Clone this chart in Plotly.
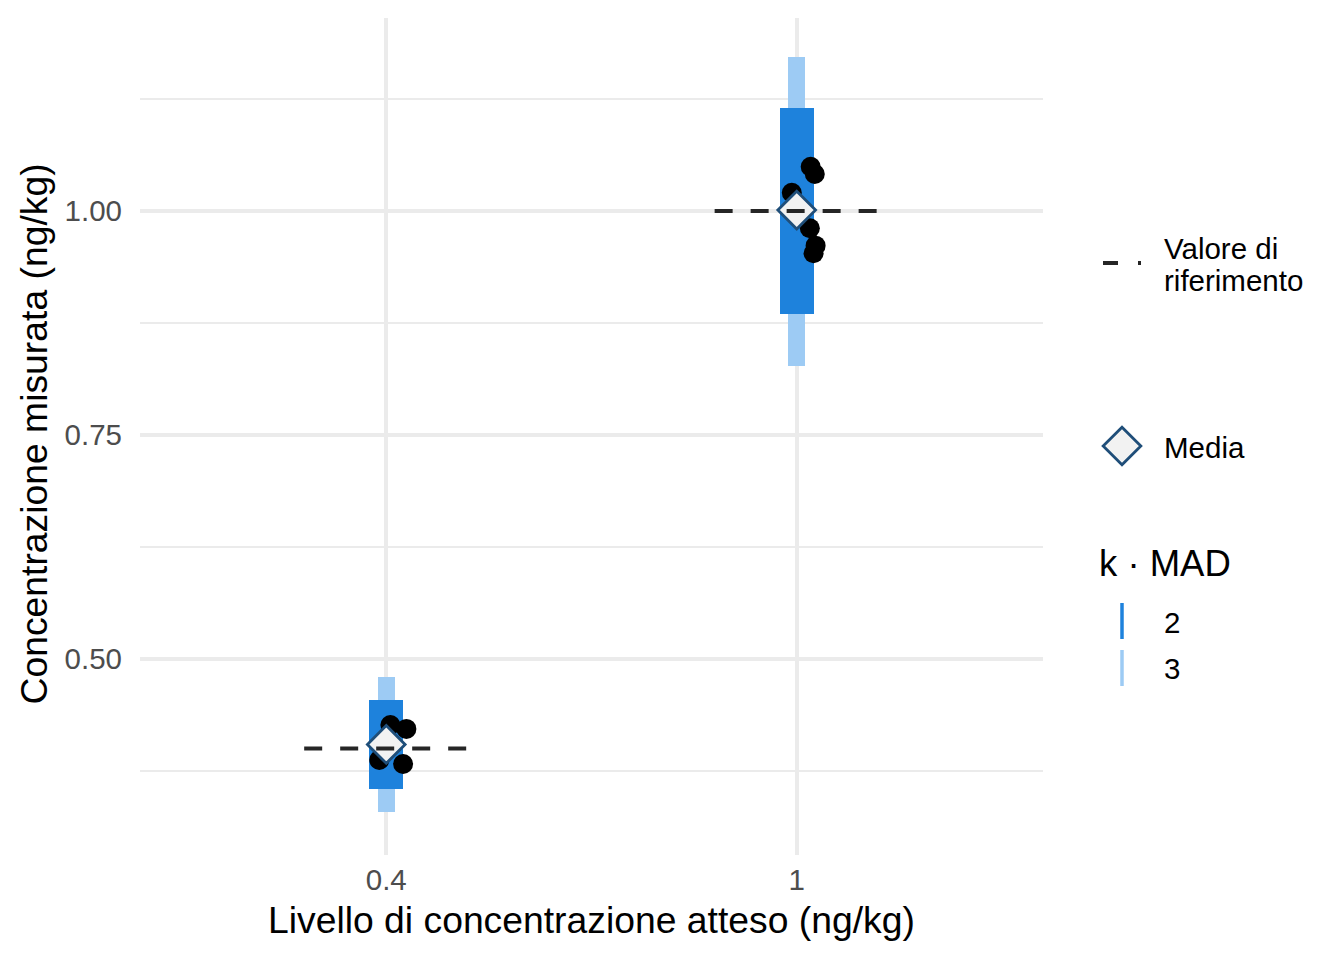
import plotly.graph_objects as go

# ---------------- data ----------------
categories = ["0.4", "1"]
cat_pos = [1, 2]
reference_values = [0.40, 1.00]
mean_values = [0.4046, 1.001]
mad2_low = [0.355, 0.885]
mad2_high = [0.454, 1.115]
mad3_low = [0.329, 0.827]
mad3_high = [0.480, 1.172]

points_level1 = [0.4263, 0.4219, 0.3873, 0.3828]
jitter_level1 = [0.010, 0.049, -0.017, 0.041]
points_level2 = [1.0494, 1.0413, 1.0204, 0.9807, 0.9613, 0.9528]
jitter_level2 = [0.034, 0.044, -0.012, 0.032, 0.046, 0.041]

y_tick_vals = [0.50, 0.75, 1.00]
y_tick_text = ["0.50", "0.75", "1.00"]
y_minor_vals = [0.375, 0.625, 0.875, 1.125]
mad_levels = ["2", "3"]

# ---------------- styles ----------------
W, H = 1344, 960
L, R, T, B = 140, 1043, 18, 855
DARK = "#1E82DC"
LIGHT = "#9DCBF4"
LINE = "#262626"
DIAM_FILL = "#F2F2F2"
DIAM_LINE = "#1F4E79"
GRID = "#EBEBEB"
FONT = "Liberation Sans"
TICK_SIZE = 29.5
TITLE_SIZE = 37.3

fig = go.Figure()

# MAD bars (3 behind, 2 in front)
fig.add_trace(go.Bar(
    x=cat_pos, y=[h - l for h, l in zip(mad3_high, mad3_low)], base=mad3_low,
    width=0.0415, marker=dict(color=LIGHT, line=dict(width=0)),
    showlegend=False, hoverinfo="skip"))
fig.add_trace(go.Bar(
    x=cat_pos, y=[h - l for h, l in zip(mad2_high, mad2_low)], base=mad2_low,
    width=0.083, marker=dict(color=DARK, line=dict(width=0)),
    showlegend=False, hoverinfo="skip"))

# individual points
px = [cat_pos[0] + j for j in jitter_level1] + [cat_pos[1] + j for j in jitter_level2]
py = points_level1 + points_level2
fig.add_trace(go.Scatter(x=px, y=py, mode="markers",
                         marker=dict(size=20, color="black"), showlegend=False))

# mean diamonds
fig.add_trace(go.Scatter(x=cat_pos, y=mean_values, mode="markers",
                         marker=dict(symbol="diamond", size=29, color=DIAM_FILL,
                                     line=dict(color=DIAM_LINE, width=2.8)),
                         showlegend=False))

# reference dashed segments
for p, r in zip(cat_pos, reference_values):
    fig.add_trace(go.Scatter(x=[p - 0.2, p + 0.2], y=[r, r], mode="lines",
                             line=dict(color=LINE, width=4, dash="18px,18px"),
                             showlegend=False))

# ---------------- legend (pixel overlay axes) ----------------
fig.add_trace(go.Scatter(x=[1103, 1141], y=[263, 263], mode="lines", xaxis="x2", yaxis="y2",
                         line=dict(color=LINE, width=4, dash="15px,20px"), showlegend=False))
fig.add_trace(go.Scatter(x=[1122], y=[446], mode="markers", xaxis="x2", yaxis="y2",
                         marker=dict(symbol="diamond", size=29, color=DIAM_FILL,
                                     line=dict(color=DIAM_LINE, width=2.8)),
                         showlegend=False))
fig.add_trace(go.Scatter(x=[1122, 1122], y=[603, 639], mode="lines", xaxis="x2", yaxis="y2",
                         line=dict(color=DARK, width=3.5), showlegend=False))
fig.add_trace(go.Scatter(x=[1122, 1122], y=[650, 686], mode="lines", xaxis="x2", yaxis="y2",
                         line=dict(color=LIGHT, width=3.5), showlegend=False))

annotations = [
    dict(text="Valore di", x=1162, y=248),
    dict(text="riferimento", x=1162, y=280),
    dict(text="Media", x=1162, y=447),
    dict(text=mad_levels[0], x=1162, y=622),
    dict(text=mad_levels[1], x=1162, y=668),
]
for a in annotations:
    fig.add_annotation(xref="x2", yref="y2", xanchor="left", yanchor="middle",
                       showarrow=False, font=dict(family=FONT, size=TICK_SIZE, color="black"), **a)
fig.add_annotation(xref="x2", yref="y2", x=1097, y=563, text="k · MAD", xanchor="left",
                   yanchor="middle", showarrow=False,
                   font=dict(family=FONT, size=36.5, color="black"))
# axis titles
fig.add_annotation(xref="x2", yref="y2", x=(L + R) / 2, y=920,
                   text="Livello di concentrazione atteso (ng/kg)", xanchor="center",
                   yanchor="middle", showarrow=False,
                   font=dict(family=FONT, size=TITLE_SIZE, color="black"))
fig.add_annotation(xref="x2", yref="y2", x=33, y=(T + B) / 2 - 2,
                   text="Concentrazione misurata (ng/kg)", textangle=-90, xanchor="center",
                   yanchor="middle", showarrow=False,
                   font=dict(family=FONT, size=TITLE_SIZE, color="black"))

fig.update_layout(
    width=W, height=H,
    margin=dict(l=0, r=0, t=0, b=0),
    paper_bgcolor="white", plot_bgcolor="rgba(0,0,0,0)",
    barmode="overlay", bargap=0,
    font=dict(family=FONT),
    xaxis=dict(domain=[L / W, R / W], range=[0.4, 2.6], tickvals=cat_pos, ticktext=categories,
               showgrid=True, gridcolor=GRID, gridwidth=3.5, zeroline=False, showline=False,
               ticks="", ticklabelstandoff=4, automargin=False,
               tickfont=dict(family=FONT, size=TICK_SIZE, color="#4D4D4D"), anchor="y"),
    yaxis=dict(domain=[1 - B / H, 1 - T / H], range=[0.2812, 1.2154], tickvals=y_tick_vals,
               ticktext=y_tick_text, showgrid=True, gridcolor=GRID, gridwidth=3.5,
               zeroline=False, showline=False, ticks="", ticklabelstandoff=17,
               automargin=False,
               minor=dict(tickvals=y_minor_vals, showgrid=True, gridcolor=GRID, gridwidth=2),
               tickfont=dict(family=FONT, size=TICK_SIZE, color="#4D4D4D"), anchor="x"),
    xaxis2=dict(domain=[0, 1], range=[0, W], visible=False, anchor="y2", fixedrange=True),
    yaxis2=dict(domain=[0, 1], range=[H, 0], visible=False, anchor="x2", fixedrange=True),
)

fig.write_html("out.html", config={"displayModeBar": False},
               post_script="document.body.style.margin='0';document.body.style.overflow='hidden';")
